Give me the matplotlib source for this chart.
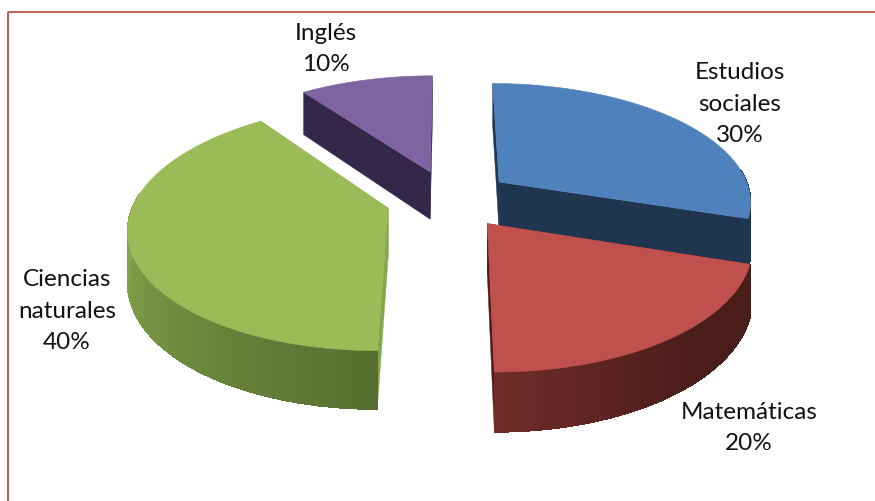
import numpy as np
import matplotlib
matplotlib.use('Agg')
import matplotlib.pyplot as plt
from matplotlib.patches import Polygon

# data
labels = ['Estudios\nsociales\n30%', 'Matemáticas\n20%', 'Ciencias\nnaturales\n40%', 'Inglés\n10%']
values = [30, 20, 40, 10]
top_cols = ['#4f81bd', '#c0504d', '#9bbb59', '#8064a2']
cut_cols = ['#1f3550', '#4f1c1a', '#86a64c', '#33284a']
wall_a = ['#1f3550', '#6e2c2a', '#8fae52', '#33284a']
wall_b = ['#1f3550', '#4a1c1a', '#566f30', '#33284a']
label_pos = [(740, 104), (749, 428), (67, 311), (326, 49)]

# projection settings, tuned by eye
cx, cy = 449, 199
W, H = 253, 118
k = 0.15
D = 49
explode = 0.25


def proj(u, v, z=0):
    s = 1 / (1 + k * v)
    return cx + W * u * s, cy - H * v * s + D * z * s


def lerp(a, b, t):
    a = np.array(matplotlib.colors.to_rgb(a))
    b = np.array(matplotlib.colors.to_rgb(b))
    return a + (b - a) * t


fig = plt.figure(figsize=(8.75, 5.01), dpi=100)
ax = fig.add_axes([0, 0, 1, 1])
ax.set_xlim(0, 875)
ax.set_ylim(501, 0)
ax.axis('off')

# frame
ax.plot([8, 8, 875], [501, 12, 12], color='#c0504d', lw=1.3)

fr = np.array(values) / sum(values)
starts = np.r_[0, np.cumsum(fr)[:-1]] * 2 * np.pi
# back to front
for i in [3, 0, 2, 1]:
    a0 = starts[i]
    a1 = a0 + fr[i] * 2 * np.pi
    mid = (a0 + a1) / 2
    ou, ov = explode * np.sin(mid), explode * np.cos(mid)
    aa = np.linspace(a0, a1, 90)
    us = ou + np.sin(aa)
    vs = ov + np.cos(aa)
    # cut faces
    for j in [0, -1]:
        pts = [proj(ou, ov), proj(us[j], vs[j]), proj(us[j], vs[j], 1), proj(ou, ov, 1)]
        ax.add_patch(Polygon(pts, fc=cut_cols[i], ec=cut_cols[i], lw=0.3))
    # outer wall, front facing part only
    for n in range(len(aa) - 1):
        if np.cos(aa[n]) > 0.12:
            continue
        pts = [proj(us[n], vs[n]), proj(us[n + 1], vs[n + 1]),
               proj(us[n + 1], vs[n + 1], 1), proj(us[n], vs[n], 1)]
        # shade runs from the bottom of the pie outwards
        t = 1 - n / (len(aa) - 2)
        if i == 2:
            t = max(0, (t - 0.3) / 0.7)
        elif i == 1:
            t = min(1, t / 0.6)
        c = lerp(wall_a[i], wall_b[i], t)
        ax.add_patch(Polygon(pts, fc=c, ec=c, lw=0.5, antialiased=False))
    # top
    pts = [proj(ou, ov)] + [proj(a, b) for a, b in zip(us, vs)]
    ax.add_patch(Polygon(pts, fc=top_cols[i], ec=top_cols[i], lw=0.4))

for lab, (x, y) in zip(labels, label_pos):
    ax.text(x, y, lab, ha='center', va='center', fontsize=17.5, family='Lato',
            color='#111111', linespacing=1.62)

fig.savefig('out.png', dpi=100)
